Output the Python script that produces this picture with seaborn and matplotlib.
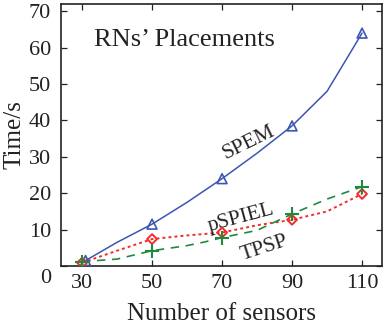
import numpy as np
import pandas as pd
import matplotlib
matplotlib.use("Agg")
import matplotlib.pyplot as plt
import matplotlib.transforms as mtransforms
import seaborn as sns

# ---- data ----
spem_x = [31, 40, 50, 60, 70, 80, 90, 100, 110]
spem_y = [1.5, 6.5, 11.5, 17.5, 24, 31, 38.5, 48, 64]
spem_mx = [31, 50, 70, 90, 110]
spem_my = [1.5, 11.5, 24, 38.5, 64]

pspiel_x = [30, 40, 50, 60, 70, 80, 90, 100, 110]
pspiel_y = [0.9, 4.2, 7.4, 8.4, 9.2, 11.2, 12.7, 15.0, 19.8]
pspiel_mx = [30, 50, 70, 90, 110]
pspiel_my = [0.9, 7.4, 9.2, 12.7, 19.8]

tpsp_x = [30, 40, 50, 60, 65, 70, 80, 90, 100, 110]
tpsp_y = [1.2, 1.9, 4.2, 5.6, 6.6, 7.8, 9.8, 14.3, 18.4, 21.8]
tpsp_mx = [30, 50, 70, 90, 110]
tpsp_my = [1.2, 4.2, 7.8, 14.3, 21.8]

xticks = [30, 50, 70, 90, 110]
yticks = [0, 10, 20, 30, 40, 50, 60, 70]

sns.set_style("ticks")
plt.rcParams['font.family'] = ['Liberation Serif', 'DejaVu Serif']

W, H = 383, 327
fig = plt.figure(figsize=(W / 100, H / 100), dpi=100)
L, R, T, B = 60.7, 382, 4, 266
ax = fig.add_axes([L / W, 1 - B / H, (R - L) / W, (B - T) / H])

blue = '#3b56b3'
red = '#f52a2a'
green = '#1e8a3e'
ink = '#222222'

sns.lineplot(x=spem_x, y=spem_y, ax=ax, color=blue, lw=1.1, linestyle='-')
sns.lineplot(x=pspiel_x, y=pspiel_y, ax=ax, color=red, lw=1.4, linestyle=(0, (1.5, 1.6)))
sns.lineplot(x=tpsp_x, y=tpsp_y, ax=ax, color=green, lw=1.2, linestyle=(0, (5, 4)))

sns.scatterplot(x=spem_mx, y=spem_my, ax=ax, marker='^', s=50, facecolor='none',
                edgecolor=blue, linewidth=1.2, zorder=5)
sns.scatterplot(x=pspiel_mx, y=pspiel_my, ax=ax, marker='D', s=25, facecolor='none',
                edgecolor=red, linewidth=1.4, zorder=5)
sns.scatterplot(x=tpsp_mx, y=tpsp_my, ax=ax, marker='+', s=90, color=green,
                linewidth=1.5, zorder=5)

ax.set_xlim(23.9, 115.7)
ax.set_ylim(0.4, 72)
ax.set_xticks(xticks)
ax.set_yticks(yticks)
ax.tick_params(direction='in', length=4, width=0.9, labelsize=16, colors=ink,
               top=True, right=True)
ax.tick_params(axis='x', pad=6)
ax.tick_params(axis='y', pad=7)
for s in ax.spines.values():
    s.set_linewidth(1.2)
    s.set_color(ink)

# move the "0" y tick label downwards
lab0 = ax.get_yticklabels()[0]
lab0.set_transform(lab0.get_transform() + mtransforms.ScaledTranslation(0, -10 / 100, fig.dpi_scale_trans))

ax.set_xlabel('Number of sensors', fontsize=18, color=ink, labelpad=7)
ax.set_ylabel('Time/s', fontsize=18, color=ink, labelpad=2)

ax.text(59.2, 62.0, 'RNs\u2019 Placements', fontsize=19, ha='center', va='center', color=ink)
ax.text(77.6, 33.9, 'SPEM', fontsize=15.5, ha='center', va='center', rotation=26, color=ink)
ax.text(75.3, 13.2, 'pSPIEL', fontsize=15.5, ha='center', va='center', rotation=15, color=ink)
ax.text(82.0, 5.0, 'TPSP', fontsize=15.5, ha='center', va='center', rotation=18, color=ink)

fig.savefig('out.png', dpi=100)
